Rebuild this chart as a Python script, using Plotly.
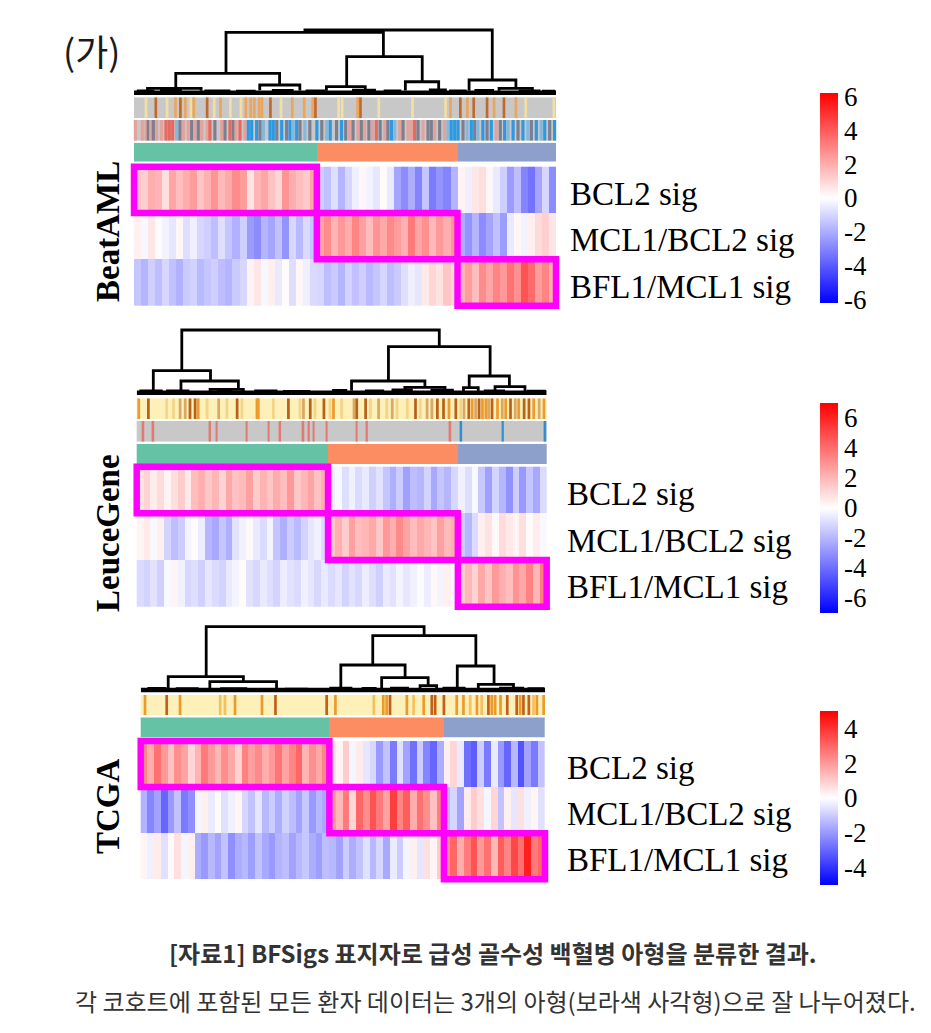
import plotly.graph_objects as go

W, H = 931, 1033

sig_names = ["BCL2 sig", "MCL1/BCL2 sig", "BFL1/MCL1 sig"]
cluster_colors = ["#66c2a5", "#fc8d62", "#8da0cb"]
bwr = [[0, "rgb(0,0,255)"], [0.5, "rgb(255,255,255)"], [1, "rgb(255,0,0)"]]

# ---------------- BeatAML ----------------
beat_sizes = [26, 20, 14]
beat_bcl2 = [1.5, 1.2, 2.0, 1.8, 0.8, 2.2, 1.6, 2.0, 2.4, 1.4, 1.9, 2.6, 1.7, 2.1, 2.8, 2.4, 0.7, 1.8, 2.2, 1.5, 1.0, 2.6, 2.0, 1.6, 1.3, 2.2,
             -1.2, -1.5, -0.8, -1.8, -1.0, -0.4, 0.2, -0.3, -0.6, 0.1, -0.5, -2.2, -2.8, -2.0, -3.0, -1.4, -3.2, -2.6, -3.0, -1.8,
             0.3, -0.4, 0.6, 0.8, 0.2, -0.5, -1.2, -2.4, -1.6, -3.0, -3.4, -2.2, -1.0, -2.8]
beat_mcl1 = [0.4, -0.2, 0.6, 0.1, -0.3, -0.6, 0.2, -0.8, -0.4, -1.0, -1.2, -1.6, -0.8, -1.4, -1.9, -1.2, -2.4, -2.8, -1.8, -2.2, -1.5, -2.6, -1.0, -1.7, -0.9, -1.4,
             2.2, 2.8, 1.8, 2.5, 2.0, 3.0, 2.3, 1.6, 2.6, 2.1, 2.9, 2.4, 1.9, 3.2, 2.2, 2.7, 1.7, 2.5, 2.0, 2.6,
             -2.0, -2.6, -1.8, -2.8, -2.2, -1.5, -2.4, -0.5, 0.2, -0.3, 0.4, 0.9, 1.2, 0.6]
beat_bfl1 = [-1.4, -1.8, -1.2, -1.6, -1.0, -1.5, -1.9, -1.3, -1.1, -1.7, -1.4, -1.2, -1.6, -1.8, -1.3, -1.0, 0.3, 0.6, -0.2, 0.4, -0.5, 0.1, -0.8, 0.2, -0.4, -0.9,
             -1.0, -1.6, -1.3, -1.8, -1.1, -1.5, -1.2, -1.7, -1.4, -1.0, -1.6, -1.3, -0.8, -0.4, -0.6, 0.5, 1.0, 0.7, 1.4, 0.9,
             1.8, 2.4, 1.6, 2.8, 2.2, 3.0, 2.5, 3.4, 2.7, 4.2, 3.6, 2.4, 3.0, 2.0]
beat_ticks = [6, 4, 2, 0, -2, -4, -6]
beat_ann_top_pos = [1.2, 2.6, 4.2, 5.4, 6.1, 6.8, 7.6, 8.0, 9.9, 10.9, 11.8, 13.2, 14.7, 15.4, 16.1, 16.6, 17.3, 17.7, 18.9, 20.4,
                    22.0, 23.7, 24.9, 25.3, 28.6, 29.1, 31.3, 31.7, 34.3, 39.1, 43.8, 44.5, 45.9, 46.9, 47.8, 49.7, 50.7, 52.1, 53.8, 55.2, 59.2]
beat_ann_top_lvl = [1, 3, 1, 2, 3, 2, 1, 2, 3, 1, 2, 1, 1, 2, 2, 2, 2, 2, 3, 1,
                    2, 2, 2, 3, 1, 1, 2, 3, 1, 1, 1, 2, 3, 2, 3, 3, 2, 3, 2, 1, 1]
beat_ann_mid_pos = [-0.3, 0.68, 1.2, 1.53, 1.87, 2.25, 2.72, 3.43, 4.05, 4.52, 5.0, 5.57, 6.04, 6.51, 7.22, 7.7, 8.17, 8.64, 9.12, 9.92,
                    10.3, 11.0, 11.97, 12.44, 13.15, 13.62, 14.0, 14.57, 15.28, 15.75, 16.23, 16.94, 17.42, 17.9, 18.84, 19.3, 19.8, 20.5, 21.2, 21.68,
                    22.15, 22.63, 23.1, 23.8, 24.5, 25.5, 26.2, 26.9, 27.4, 28.3, 29.0,
                    29.6, 30.17, 30.64, 31.35, 31.82, 32.3, 32.9, 33.4, 33.95, 34.5, 35.15, 35.6, 36.1, 36.57, 37.28, 37.75, 38.46, 38.93, 39.4, 39.88,
                    40.6, 41.3, 41.77, 42.25, 42.96, 43.67, 44.15, 44.6, 45.1, 45.57, 46.28, 46.85, 47.46, 47.94, 48.4, 49.1, 49.7, 50.3, 51.0, 51.58,
                    52.2, 52.68, 53.4, 54.1, 54.8, 55.5, 56.0, 56.7, 57.4, 57.9, 58.6, 59.3]
beat_ann_mid_lvl = [1, 1, 1, 3, 1, 3, 1, 1, 2, 2, 2, 4, 3, 1, 1, 3, 1, 3, 1, 1,
                    2, 3, 1, 3, 2, 3, 1, 2, 1, 5, 5, 5, 3, 4, 5, 5, 3, 5, 3, 5,
                    4, 5, 3, 4, 3, 5, 3, 4, 5, 3, 5,
                    3, 1, 3, 1, 3, 1, 3, 1, 2, 3, 1, 3, 5, 4, 1, 3, 1, 1, 2, 3,
                    1, 3, 3, 1, 3, 1, 4, 5, 5, 5, 3, 4, 5, 3, 4, 5, 3, 5, 1, 3,
                    5, 4, 5, 3, 5, 4, 3, 5, 4, 5, 3, 5]
beat_link_l = [40.5, 21.8, 9.9, 3.2, 29.8, 50.4, 45.6, 64.3, 70.2, 79.4, 86.5,
               1.0, 6.5, 17.0, 24.5, 33.0, 41.0, 52.0, 59.5, 75.0, 81.0, 91.5, 97.0]
beat_link_r = [84.9, 59.1, 34.5, 15.9, 39.3, 68.3, 54.8, 72.2, 73.8, 90.5, 94.4,
               4.5, 11.0, 22.5, 28.5, 37.5, 45.0, 57.0, 63.0, 78.5, 85.0, 96.0, 99.5]
beat_link_h = [10.0, 9.63, 3.09, 0.70, 1.23, 5.74, 0.96, 1.75, 0.43, 2.03, 0.70,
               0.3, 0.35, 0.3, 0.25, 0.35, 0.3, 0.4, 0.3, 0.3, 0.35, 0.3, 0.25]
beat_link_hl = [9.63, 3.09, 0.70, 0.25, 0.40, 0.96, 0.30, 0.35, 0.20, 0.32, 0.30,
                0, 0, 0, 0, 0, 0, 0, 0, 0, 0, 0, 0]
beat_link_hr = [2.03, 5.74, 1.23, 0.30, 0.35, 1.75, 0.35, 0.43, 0.20, 0.70, 0.25,
                0, 0, 0, 0, 0, 0, 0, 0, 0, 0, 0, 0]

# ---------------- LeuceGene ----------------
leuce_sizes = [28, 19, 13]
leuce_bcl2 = [0.8, 1.2, 0.5, 1.0, 0.3, 0.9, 1.4, 0.6, 1.8, 2.2, 1.5, 2.0, 1.2, 2.4, 1.7, 1.9, 2.6, 1.4, 2.1, 1.6, 2.3, 1.8, 2.8, 1.5, 2.0, 2.5, 1.7, 2.2,
              -0.5, -0.2, -0.9, -0.4, -1.0, -0.6, -1.3, -0.8, -1.6, -2.2, -1.4, -2.6, -1.8, -2.0, -1.2, -2.4, -1.6, -2.0, -1.1,
              -0.4, -0.9, -0.2, -1.5, -2.6, -1.2, -2.0, -3.0, -1.4, -2.8, -1.6, -2.4, -1.0]
leuce_mcl1 = [0.3, 0.6, -0.2, 0.4, -1.2, -1.8, -1.4, -0.3, 0.1, -0.5, -2.0, -2.4, -1.6, -2.2, -0.8, -0.4, 0.2, -0.6, -1.0, -0.3, -1.6, -2.2, -1.4, -1.9, -1.2, -0.7, -0.4, -1.0,
              1.6, 2.2, 1.4, 2.6, 1.8, 2.0, 2.4, 1.5, 2.8, 2.2, 3.2, 2.5, 1.8, 2.4, 2.0, 1.6, 2.6, 1.9, 2.2,
              -1.4, -2.0, -1.0, 0.4, 0.8, 0.2, 1.0, 0.6, 0.3, 0.9, 0.1, 0.5, -0.2]
leuce_bfl1 = [-1.0, -1.2, -0.8, -1.3, -0.2, 0.3, -0.4, -1.1, -0.9, -1.3, -0.7, -1.0, -1.2, -0.6, -0.3, 0.1, -0.8, -1.1, -0.6, -0.9, -1.2, -0.5, -0.8, -1.0, -0.4, -0.7, -1.1, -0.6,
              -1.0, -0.7, -1.2, -0.8, -1.1, -0.5, -0.9, -1.3, -0.6, -0.8, -0.3, -0.7, -0.4, -0.1, -0.5, 0.2, -0.3, 0.4, -0.2,
              1.4, 2.0, 1.2, 2.4, 1.6, 2.8, 2.2, 1.8, 3.0, 2.4, 3.4, 2.0, 3.6]
leuce_ticks = [6, 4, 2, 0, -2, -4, -6]
leuce_ann_top_pos = [-0.2, 1.21, 3.9, 4.9, 5.85, 6.6, 7.3, 8.05, 8.5, 9.8, 11.5, 12.7, 14.2, 14.9, 17.1, 17.3, 19.5, 21.7, 23.4, 23.9,
                     24.9, 25.6, 26.9, 27.8, 28.3, 29.5, 31.3, 31.7, 33.0, 33.7, 34.9, 36.1, 36.9, 37.6, 39.1, 40.3, 41.0, 42.0, 42.7, 43.5,
                     44.4, 45.2, 46.2, 46.9, 47.4, 48.1, 48.6, 49.1, 49.6, 50.1, 50.6, 51.0, 51.5, 52.3, 53.0, 53.5, 54.2, 54.9, 55.4, 56.2,
                     56.9, 57.6, 58.4, 59.1]
leuce_ann_top_lvl = [3, 4, 1, 1, 2, 2, 4, 4, 3, 1, 2, 1, 4, 1, 3, 3, 1, 4, 1, 2,
                     4, 1, 4, 1, 3, 1, 2, 4, 4, 1, 2, 1, 2, 1, 1, 4, 1, 2, 2, 4,
                     4, 3, 4, 1, 2, 4, 3, 2, 4, 3, 3, 2, 4, 3, 2, 3, 4, 2, 3, 4,
                     4, 3, 2, 3]
leuce_ann_mid_pos = [0.48, 1.94, 10.25, 11.2, 15.6, 18.8, 20.5, 23.9, 24.7, 25.4, 27.3, 31.7, 33.2, 45.4, 47.0, 53.1, 59.3]
leuce_ann_mid_lvl = [1, 1, 1, 1, 1, 1, 1, 1, 1, 1, 1, 1, 1, 1, -1, -1, -1]
leuce_link_l = [11.0, 4.05, 10.8, 17.9, 61.4, 52.4, 65.4, 81.1, 79.7, 87.4,
                1.0, 7.5, 20.0, 29.0, 36.0, 48.0, 56.0, 62.5, 72.0, 85.0, 95.5]
leuce_link_r = [73.8, 18.0, 24.8, 26.0, 86.2, 70.3, 75.2, 90.9, 83.3, 94.7,
                6.0, 12.5, 23.0, 34.0, 42.0, 51.0, 60.0, 67.0, 77.0, 89.5, 99.5]
leuce_link_h = [10.0, 3.51, 1.87, 0.54, 7.34, 1.87, 0.86, 2.66, 0.80, 0.96,
                0.3, 0.3, 0.35, 0.3, 0.2, 0.35, 0.3, 0.45, 0.4, 0.3, 0.25]
leuce_link_hl = [3.51, 0.30, 0.25, 0.20, 1.87, 0.30, 0.25, 0.80, 0.20, 0.25,
                 0, 0, 0, 0, 0, 0, 0, 0, 0, 0, 0]
leuce_link_hr = [7.34, 1.87, 0.54, 0.20, 2.66, 0.86, 0.25, 0.96, 0.20, 0.25,
                 0, 0, 0, 0, 0, 0, 0, 0, 0, 0, 0]

# ---------------- TCGA ----------------
tcga_sizes = [28, 17, 15]
tcga_bcl2 = [2.4, 1.6, 2.8, 2.0, 1.2, 2.2, 1.8, 0.8, 1.5, 2.6, 2.0, 1.4, 2.2, 1.7, 0.9, 2.5, 1.9, 2.3, 1.6, 2.0, 2.7, 1.8, 2.4, 3.0, 1.5, 2.2, 1.7, 2.4,
             0.6, 0.2, 1.0, -0.2, 0.4, -0.5, -0.8, -2.0, -1.2, -2.6, -0.6, -1.8, -2.8, -1.0, -2.4, -3.0, -1.6,
             0.3, 0.8, -0.4, -2.8, -3.2, -1.0, -2.6, -0.4, -2.0, -3.0, -1.4, -3.4, -1.8, -2.6, -1.2]
tcga_mcl1 = [-1.5, -2.4, -1.8, -3.0, -2.0, -1.2, -2.6, -2.2, -0.2, 0.3, -0.4, 0.1, -0.6, -0.3, 0.2, -0.8, -1.2, -0.5, -1.4, -1.0, -1.6, -0.9, -1.3, -1.8, -1.1, -2.0, -1.4, -1.7,
             2.0, 1.4, 2.6, 0.8, 3.0, 2.2, 3.4, 2.6, 1.8, 3.8, 2.4, 3.2, 1.6, 2.8, 2.2, 1.2, 2.5,
             -1.4, -0.8, -1.8, 0.4, 1.0, 0.6, -0.2, 0.8, -1.2, 0.3, -0.5, 0.6, -0.3, 0.2, -0.6]
tcga_bfl1 = [0.2, -0.3, 0.4, -0.6, 0.1, 0.6, -0.2, 0.3, -1.6, -2.0, -1.4, -1.8, -1.2, -2.2, -1.6, -1.4, -1.9, -1.2, -1.7, -2.0, -1.5, -1.3, -1.8, -1.4, -1.1, -1.6, -1.9, -1.3,
             -1.4, -1.8, -1.0, -1.6, -1.2, -0.6, -1.4, -0.8, -1.7, -0.4, -1.0, -0.2, 0.3, -0.5, 0.6, 0.2, 1.0,
             2.2, 3.0, 1.6, 2.6, 3.4, 2.0, 2.8, 1.4, 3.2, 2.4, 3.6, 2.8, 4.4, 2.6, 3.0]
tcga_ticks = [4, 2, 0, -2, -4]
tcga_ann_top_pos = [0.14, 3.36, 5.34, 11.3, 12.0, 13.5, 17.5, 19.5, 27.1, 28.4, 34.1, 35.5, 36.0, 36.5, 39.0, 40.0, 41.5, 42.7, 43.2, 44.5,
                    46.4, 47.4, 48.4, 49.4, 50.1, 51.1, 51.6, 52.1, 52.9, 53.9, 55.3, 55.8, 56.3, 57.1, 57.8, 58.3, 59.3]
tcga_ann_top_lvl = [3, 4, 3, 2, 2, 3, 3, 4, 4, 3, 2, 3, 3, 4, 3, 2, 3, 4, 4, 4,
                    3, 3, 2, 3, 2, 4, 3, 3, 3, 4, 4, 3, 4, 4, 2, 3, 3]
tcga_link_l = [16.2, 6.8, 17.1, 57.4, 49.5, 59.6, 69.1, 78.3, 83.5,
               2.0, 9.0, 20.0, 36.0, 47.0, 55.0, 62.0, 75.0, 89.0, 96.0]
tcga_link_r = [70.1, 25.4, 33.6, 82.9, 65.4, 71.1, 73.2, 87.4, 92.2,
               6.0, 14.0, 26.0, 41.0, 52.0, 58.0, 66.0, 80.0, 94.5, 99.5]
tcga_link_h = [10.0, 2.10, 1.31, 8.58, 3.95, 1.94, 0.68, 3.79, 0.90,
               0.25, 0.2, 0.2, 0.15, 0.3, 0.25, 0.3, 0.3, 0.3, 0.2]
tcga_link_hl = [2.10, 0.25, 0.20, 3.95, 0.30, 0.30, 0.20, 0.30, 0.25,
                0, 0, 0, 0, 0, 0, 0, 0, 0, 0]
tcga_link_hr = [8.58, 1.31, 0.20, 3.79, 1.94, 0.68, 0.20, 0.90, 0.25,
                0, 0, 0, 0, 0, 0, 0, 0, 0, 0]

leaf_span = [0, 100]

# annotation palettes
gray_bg = "#c8c8c8"
yellow_bg = "#fdf0b8"
beat_top_cols = {1: "#f5dfa0", 2: "#eda55a", 3: "#c2692a"}
beat_mid_cols = {1: "#e3a29c", 2: "#e7685e", 3: "#7b7f90", 4: "#86b8dc", 5: "#2b9ae2"}
leuce_top_cols = {1: "#f3d488", 2: "#d9a866", 3: "#ee9a2e", 4: "#b9601a"}
leuce_mid_cols = {1: "#e07a72", -1: "#2f8fd0"}
tcga_top_cols = {1: "#f3d488", 2: "#f5c060", 3: "#eb9a2c", 4: "#c0601a"}

panels = [
    dict(name="BeatAML", sizes=beat_sizes, rows=[beat_bcl2, beat_mcl1, beat_bfl1], ticks=beat_ticks, zlim=6.2,
         links=(beat_link_l, beat_link_r, beat_link_h, beat_link_hl, beat_link_hr),
         ann=[dict(pos=beat_ann_top_pos, lvl=beat_ann_top_lvl, cols=beat_top_cols, bg=gray_bg, w=0.38),
              dict(pos=beat_ann_mid_pos, lvl=beat_ann_mid_lvl, cols=beat_mid_cols, bg=gray_bg, w=0.45)]),
    dict(name="LeuceGene", sizes=leuce_sizes, rows=[leuce_bcl2, leuce_mcl1, leuce_bfl1], ticks=leuce_ticks, zlim=7.0,
         links=(leuce_link_l, leuce_link_r, leuce_link_h, leuce_link_hl, leuce_link_hr),
         ann=[dict(pos=leuce_ann_top_pos, lvl=leuce_ann_top_lvl, cols=leuce_top_cols, bg=yellow_bg, w=0.4),
              dict(pos=leuce_ann_mid_pos, lvl=leuce_ann_mid_lvl, cols=leuce_mid_cols, bg=gray_bg, w=0.25)]),
    dict(name="TCGA", sizes=tcga_sizes, rows=[tcga_bcl2, tcga_mcl1, tcga_bfl1], ticks=tcga_ticks, zlim=5.0,
         links=(tcga_link_l, tcga_link_r, tcga_link_h, tcga_link_hl, tcga_link_hr),
         ann=[dict(pos=tcga_ann_top_pos, lvl=tcga_ann_top_lvl, cols=tcga_top_cols, bg=yellow_bg, w=0.4)]),
]

# pixel geometry of each panel
geom = [
    dict(left=134, right=556, heat=(166.7, 305.7), cluster=(142.7, 161.7), ann=[(97.3, 118.3), (120, 140.7)],
         base=92.7, unit=6.27, cbar=(83, 313), label_x=568, name_y=232),
    dict(left=136.7, right=546.7, heat=(466.7, 606.7), cluster=(444, 464), ann=[(398.3, 419.3), (421, 441.7)],
         base=392.7, unit=6.27, cbar=(393, 623), label_x=565, name_y=533),
    dict(left=140.7, right=545, heat=(741, 879.3), cluster=(717.3, 737.7), ann=[(695, 715)],
         base=690, unit=6.33, cbar=(701, 895), label_x=565, name_y=806),
]

SERIF = "Liberation Serif"
KR = "Noto Sans CJK KR"


def ref(letter, n):
    return letter if n == 1 else f"{letter}{n}"


def key(letter, n):
    return f"{letter}axis" if n == 1 else f"{letter}axis{n}"


def py(p):
    return 1 - p / H


fig = go.Figure()
layout_axes = {}
shapes = []
annotations = []

for i, (d, g) in enumerate(zip(panels, geom)):
    n = sum(d["sizes"])
    xh, xd = 2 * i + 1, 2 * i + 2
    y0 = 5 * i + 1
    colw = (g["right"] - g["left"]) / n
    rowh = (g["heat"][1] - g["heat"][0]) / 3
    pc, pr = 0.6, 0.12

    layout_axes[key("x", xh)] = dict(domain=[(g["left"] - pc * colw) / W, (g["right"] + pc * colw) / W],
                                     range=[-0.5 - pc, n - 0.5 + pc], visible=False, anchor=ref("y", y0))
    layout_axes[key("y", y0)] = dict(domain=[py(g["heat"][1] + pr * rowh), py(g["heat"][0] - pr * rowh)],
                                     range=[2.5 + pr, -0.5 - pr], visible=False, anchor=ref("x", xh))

    # main signature heatmap
    cb0, cb1 = g["cbar"]
    fig.add_trace(go.Heatmap(
        z=d["rows"], x0=0, dx=1, y0=0, dy=1, colorscale=bwr, zmin=-d["zlim"], zmax=d["zlim"],
        xaxis=ref("x", xh), yaxis=ref("y", y0), hoverinfo="skip",
        colorbar=dict(x=810 / W, xanchor="left", y=py((cb0 + cb1) / 2), yanchor="middle",
                      len=(cb1 - cb0) / H, lenmode="fraction", thickness=18, outlinewidth=0,
                      tickvals=d["ticks"], ticktext=[str(t) for t in d["ticks"]], ticks="",
                      tickfont=dict(family=SERIF, size=27, color="black"))))

    # cluster bar
    yc = y0 + 1
    layout_axes[key("y", yc)] = dict(domain=[py(g["cluster"][1]), py(g["cluster"][0])], range=[-0.5, 0.5],
                                     visible=False, anchor=ref("x", xh))
    labels = [k for k, s in enumerate(d["sizes"]) for _ in range(s)]
    cscale = [[0, cluster_colors[0]], [0.25, cluster_colors[0]], [0.25, cluster_colors[1]],
              [0.75, cluster_colors[1]], [0.75, cluster_colors[2]], [1, cluster_colors[2]]]
    fig.add_trace(go.Heatmap(z=[labels], x0=0, dx=1, y0=0, colorscale=cscale, zmin=0, zmax=2, showscale=False,
                             xaxis=ref("x", xh), yaxis=ref("y", yc), hoverinfo="skip"))

    # annotation rows: background colour with thin coloured sample lines
    for j, (a, (t, b)) in enumerate(zip(d["ann"], g["ann"])):
        ya = y0 + 2 + j
        layout_axes[key("y", ya)] = dict(domain=[py(b), py(t)], range=[-0.5, 0.5], visible=False,
                                         anchor=ref("x", xh))
        shapes.append(dict(type="rect", xref=ref("x", xh), yref=ref("y", ya), x0=-0.5, x1=n - 0.5,
                           y0=-0.5, y1=0.5, fillcolor=a["bg"], line=dict(width=0), layer="below"))
        fig.add_trace(go.Bar(x=a["pos"], y=[1] * len(a["pos"]), base=-0.5, width=a["w"],
                             marker=dict(color=[a["cols"][v] for v in a["lvl"]], line=dict(width=0)),
                             xaxis=ref("x", xh), yaxis=ref("y", ya), hoverinfo="skip", showlegend=False))

    # dendrogram
    yd = y0 + 4
    layout_axes[key("x", xd)] = dict(domain=[g["left"] / W, g["right"] / W], range=[0, 100], visible=False,
                                     anchor=ref("y", yd))
    layout_axes[key("y", yd)] = dict(domain=[py(g["base"] + 0.5 * g["unit"]), py(g["base"] - 10.5 * g["unit"])],
                                     range=[-0.5, 10.5], visible=False, anchor=ref("x", xd))
    xs, ys = [], []
    for l, r, h, hl, hr in zip(*d["links"]):
        xs += [l, l, r, r, None]
        ys += [hl, h, h, hr, None]
    fig.add_trace(go.Scatter(x=leaf_span, y=[0, 0], mode="lines", line=dict(color="black", width=4.5),
                             xaxis=ref("x", xd), yaxis=ref("y", yd), hoverinfo="skip", showlegend=False))
    fig.add_trace(go.Scatter(x=xs, y=ys, mode="lines", line=dict(color="black", width=2.8),
                             xaxis=ref("x", xd), yaxis=ref("y", yd), hoverinfo="skip", showlegend=False))

    # magenta boxes on the diagonal
    start = 0
    for k, s in enumerate(d["sizes"]):
        shapes.append(dict(type="rect", xref=ref("x", xh), yref=ref("y", y0), x0=start - 0.5, x1=start + s - 0.5,
                           y0=k - 0.5, y1=k + 0.5, line=dict(color="#ff00ff", width=6.5)))
        start += s

    # row labels
    for k, lab in enumerate(sig_names):
        annotations.append(dict(text=lab, xref="paper", yref="paper", x=g["label_x"] / W,
                                y=py(g["heat"][0] + (k + 0.5) * rowh + 4), xanchor="left", yanchor="middle",
                                showarrow=False, font=dict(family=SERIF, size=33, color="black")))
    annotations.append(dict(text="<b>" + d["name"] + "</b>", xref="paper", yref="paper", x=108 / W,
                            y=py(g["name_y"]), textangle=-90, xanchor="center", yanchor="middle",
                            showarrow=False, font=dict(family=SERIF, size=33, color="black")))

annotations.append(dict(text="(가)", xref="paper", yref="paper", x=91 / W, y=py(50), xanchor="center",
                        yanchor="middle", showarrow=False, font=dict(family=KR, size=36, color="#1a1a1a")))
annotations.append(dict(text="<b>[자료1] BFSigs 표지자로 급성 골수성 백혈병 아형을 분류한 결과.</b>", xref="paper",
                        yref="paper", x=493 / W, y=py(952), xanchor="center", yanchor="middle", showarrow=False,
                        font=dict(family=KR, size=24, color="#333333")))
annotations.append(dict(text="각 코호트에 포함된 모든 환자 데이터는 3개의 아형(보라색 사각형)으로 잘 나누어졌다.", xref="paper",
                        yref="paper", x=495 / W, y=py(1000), xanchor="center", yanchor="middle", showarrow=False,
                        font=dict(family=KR, size=24, color="#333333")))

fig.update_layout(width=W, height=H, margin=dict(l=0, r=0, t=0, b=0), paper_bgcolor="white",
                  plot_bgcolor="white", showlegend=False, barmode="overlay",
                  shapes=shapes, annotations=annotations, **layout_axes)

fig.write_html("out.html", config={"displayModeBar": False},
               post_script="document.body.style.margin='0';")
